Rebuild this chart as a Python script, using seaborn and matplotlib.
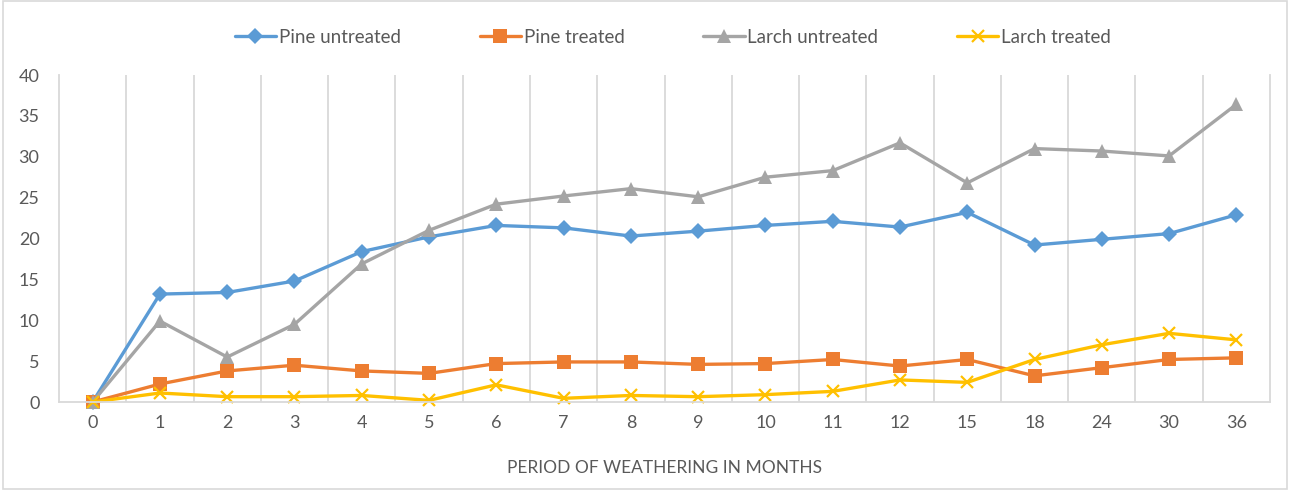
import pandas as pd
import matplotlib.pyplot as plt
from matplotlib.patches import Rectangle
import seaborn as sns

# === Data
months = ["0", "1", "2", "3", "4", "5", "6", "7", "8", "9", "10", "11", "12", "15", "18", "24", "30", "36"]
pine_untreated = [0, 13.2, 13.4, 14.8, 18.4, 20.2, 21.6, 21.3, 20.3, 20.9, 21.6, 22.1, 21.4, 23.2, 19.2, 19.9, 20.6, 22.9]
pine_treated = [0, 2.2, 3.8, 4.5, 3.8, 3.5, 4.7, 4.9, 4.9, 4.6, 4.7, 5.2, 4.4, 5.2, 3.2, 4.2, 5.2, 5.4]
larch_untreated = [0, 9.9, 5.5, 9.5, 16.9, 21.0, 24.2, 25.2, 26.1, 25.1, 27.5, 28.3, 31.7, 26.8, 31.0, 30.7, 30.1, 36.4]
larch_treated = [0, 1.1, 0.65, 0.65, 0.8, 0.2, 2.1, 0.45, 0.8, 0.65, 0.9, 1.3, 2.7, 2.4, 5.2, 7.0, 8.4, 7.6]

series_names = ["Pine untreated", "Pine treated", "Larch untreated", "Larch treated"]
colors = ["#5B9BD5", "#ED7D31", "#A5A5A5", "#FFC000"]
markers = ["D", "s", "^", "x"]

# === Long-form table
frames = []
for name, vals in zip(series_names, [pine_untreated, pine_treated, larch_untreated, larch_treated]):
    frames.append(pd.DataFrame({"month": months, "value": vals, "series": name}))
df = pd.concat(frames, ignore_index=True)

# === Plot
sns.set_style("white")
plt.rcParams["font.family"] = ["Lato", "DejaVu Sans"]
text_color = "#595959"
grid_color = "#D9D9D9"

fig = plt.figure(figsize=(12.9, 4.9), dpi=100)
ax = fig.add_axes([59 / 1290, 88 / 490, (1270 - 59) / 1290, (402 - 75) / 490])

sns.pointplot(data=df, x="month", y="value", hue="series", order=months,
              hue_order=series_names, palette=colors, markers=markers,
              linestyles="-", errorbar=None, ax=ax)

sizes = {"D": 8.5, "s": 10, "^": 10.5, "x": 9}
for line in ax.lines:
    m = line.get_marker()
    line.set_linewidth(2.4)
    line.set_clip_on(False)
    if m in sizes:
        line.set_markersize(sizes[m])
        if m == "x":
            line.set_markeredgewidth(1.6)
        else:
            line.set_markeredgewidth(0)

ax.set_ylim(0, 40)
ax.set_yticks(range(0, 41, 5))
ax.set_xlim(-0.5, len(months) - 0.5)

# vertical gridlines between categories
for b in range(1, len(months)):
    ax.axvline(b - 0.5, color=grid_color, lw=1.3, zorder=0)

ax.spines["top"].set_visible(False)
for s in ["left", "right", "bottom"]:
    ax.spines[s].set_color(grid_color)
    ax.spines[s].set_linewidth(1.3)

ax.tick_params(axis="both", length=0, labelsize=13, colors=text_color)
ax.tick_params(axis="y", pad=14)
ax.tick_params(axis="x", pad=9)
ax.set_ylabel("")
ax.set_xlabel("PERIOD OF WEATHERING IN MONTHS", fontsize=12.5, color=text_color, labelpad=21)

handles, labels = ax.get_legend_handles_labels()
ax.legend(handles, labels, loc="center", bbox_to_anchor=(0.507, 1 + (75 - 37) / 327),
          ncol=4, frameon=False, fontsize=13.5, labelcolor=text_color,
          handlelength=2.2, handletextpad=0.15, columnspacing=4.2)

# outer chart border
fig.patches.append(Rectangle((0.002, 0.003), 0.996, 0.994, transform=fig.transFigure,
                             fill=False, edgecolor=grid_color, lw=1.2))

plt.savefig("out.png", dpi=100)
